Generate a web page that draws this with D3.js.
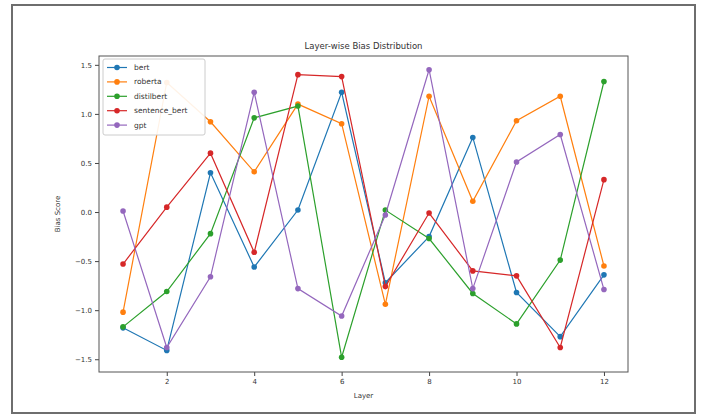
<!DOCTYPE html>
<html>
<head>
<meta charset="utf-8">
<style>
  body { margin: 0; background: #fff; }
  text { font-family: "DejaVu Sans", sans-serif; fill: #333; }
</style>
</head>
<body>
<script src="https://d3js.org/d3.v7.min.js"></script>
<script>
// layers 1..12 and the bias score per model
var layers = [1, 2, 3, 4, 5, 6, 7, 8, 9, 10, 11, 12];
var bert          = [-1.18, -1.41, 0.40, -0.56, 0.02, 1.22, -0.72, -0.25, 0.76, -0.82, -1.27, -0.64];
var roberta       = [-1.02, 1.32, 0.92, 0.41, 1.10, 0.90, -0.94, 1.18, 0.11, 0.93, 1.18, -0.55];
var distilbert    = [-1.17, -0.81, -0.22, 0.96, 1.08, -1.48, 0.02, -0.27, -0.83, -1.14, -0.49, 1.33];
var sentence_bert = [-0.53, 0.05, 0.60, -0.41, 1.40, 1.38, -0.76, -0.01, -0.60, -0.65, -1.38, 0.33];
var gpt           = [0.01, -1.38, -0.66, 1.22, -0.78, -1.06, -0.03, 1.45, -0.78, 0.51, 0.79, -0.79];

var seriesNames = ["bert", "roberta", "distilbert", "sentence_bert", "gpt"];
var seriesValues = [bert, roberta, distilbert, sentence_bert, gpt];
var colors = ["#1f77b4", "#ff7f0e", "#2ca02c", "#d62728", "#9467bd"];
var xTicks = [2, 4, 6, 8, 10, 12];
var yTicks = [-1.5, -1.0, -0.5, 0.0, 0.5, 1.0, 1.5];

var W = 703, H = 416;
// plot area edges (note: "top" is a reserved window property, so use pl/pr/pt/pb)
var pl = 99, pr = 628, pt = 56, pb = 372;

var svg = d3.select("body").append("svg")
    .attr("width", W)
    .attr("height", H);

// outer frame of the figure
svg.append("rect")
   .attr("x", 12).attr("y", 5)
   .attr("width", 683).attr("height", 408)
   .attr("fill", "#fff")
   .attr("stroke", "#6e6e6e")
   .attr("stroke-width", 2);

var x = d3.scaleLinear().domain([0.45, 12.55]).range([pl, pr]);
var y = d3.scaleLinear().domain([-1.63, 1.59]).range([pb, pt]);

// axes
var xAxis = svg.append("g")
    .attr("transform", "translate(0," + pb + ")")
    .call(d3.axisBottom(x).tickValues(xTicks).tickSize(4).tickPadding(3).tickFormat(d3.format("d")));
var yAxis = svg.append("g")
    .attr("transform", "translate(" + pl + ",0)")
    .call(d3.axisLeft(y).tickValues(yTicks).tickSize(4).tickPadding(3)
        .tickFormat(function (d) { return d3.format(".1f")(d).replace("-", "\u2212"); }));

[xAxis, yAxis].forEach(function (g) {
    g.select(".domain").remove();
    g.selectAll("line").attr("stroke", "#444");
    g.selectAll("text").style("font-size", "7px").attr("fill", "#333");
});

// plot frame
svg.append("rect")
   .attr("x", pl).attr("y", pt)
   .attr("width", pr - pl).attr("height", pb - pt)
   .attr("fill", "none")
   .attr("stroke", "#555")
   .attr("stroke-width", 1);

// lines + markers
var line = d3.line()
    .x(function (d, i) { return x(layers[i]); })
    .y(function (d) { return y(d); });

for (var s = 0; s < seriesValues.length; s++) {
    svg.append("path")
       .attr("d", line(seriesValues[s]))
       .attr("fill", "none")
       .attr("stroke", colors[s])
       .attr("stroke-width", 1.2);
    svg.selectAll(".m" + s)
       .data(seriesValues[s])
       .enter()
       .append("circle")
       .attr("cx", function (d, i) { return x(layers[i]); })
       .attr("cy", function (d) { return y(d); })
       .attr("r", 2.8)
       .attr("fill", colors[s]);
}

// title and axis labels
svg.append("text")
   .attr("x", (pl + pr) / 2).attr("y", 49)
   .attr("text-anchor", "middle")
   .style("font-size", "8.5px")
   .text("Layer-wise Bias Distribution");
svg.append("text")
   .attr("x", (pl + pr) / 2).attr("y", 398)
   .attr("text-anchor", "middle")
   .style("font-size", "7px")
   .text("Layer");
svg.append("text")
   .attr("transform", "translate(60," + ((pt + pb) / 2) + ") rotate(-90)")
   .attr("text-anchor", "middle")
   .style("font-size", "7px")
   .text("Bias Score");

// legend
var leg = svg.append("g");
leg.append("rect")
   .attr("x", 103).attr("y", 59)
   .attr("width", 102).attr("height", 76)
   .attr("rx", 2)
   .attr("fill", "#fff").attr("fill-opacity", 0.9)
   .attr("stroke", "#ccc");
seriesNames.forEach(function (name, i) {
    var yy = 67.5 + i * 14.4;
    leg.append("line")
       .attr("x1", 107).attr("x2", 127)
       .attr("y1", yy).attr("y2", yy)
       .attr("stroke", colors[i]).attr("stroke-width", 1.2);
    leg.append("circle")
       .attr("cx", 117).attr("cy", yy).attr("r", 2.8)
       .attr("fill", colors[i]);
    leg.append("text")
       .attr("x", 134).attr("y", yy + 2.5)
       .style("font-size", "7.5px")
       .text(name);
});
</script>
</body>
</html>
